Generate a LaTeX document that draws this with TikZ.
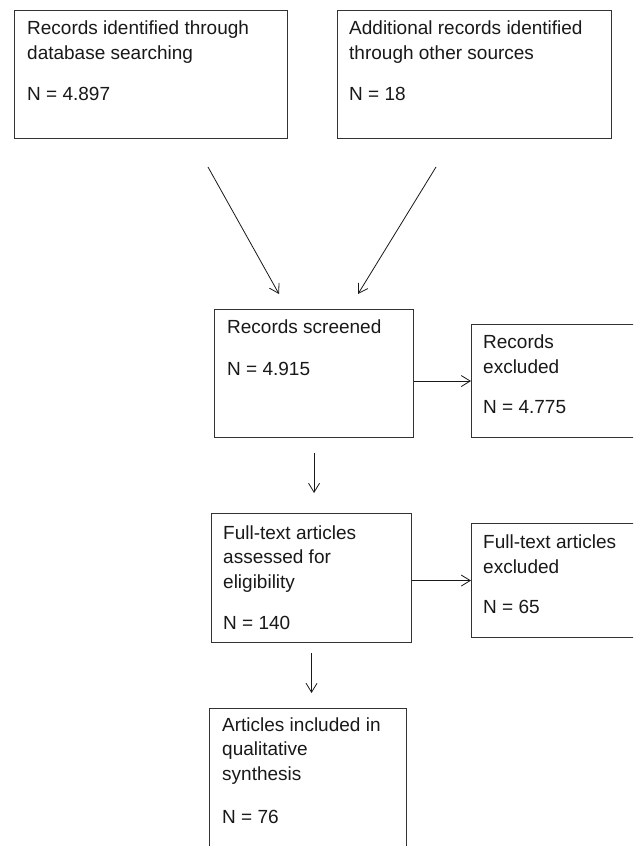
\documentclass[tikz,border=0pt]{standalone}
\usepackage{fontspec}
\setmainfont{Liberation Sans}
\usetikzlibrary{arrows.meta}
\begin{document}
\begin{tikzpicture}[x=1pt,y=-1pt,
  box/.style={draw=black!80, line width=1.1pt, rectangle, inner sep=0pt, anchor=north west},
  txt/.style={anchor=base west, align=left, inner sep=0pt, text=black!90, font=\fontsize{19}{24.5}\selectfont},
  arr/.style={-{Straight Barb[length=9pt,width=11pt]}, line width=0.8pt, draw=black!90}]
\useasboundingbox (0,0) rectangle (633,846);
\clip (0,0) rectangle (633,846);
\fill[white] (0,0) rectangle (633,846);
% boxes
\node[box, minimum width=273pt, minimum height=128pt] (db) at (14,10) {};
\node[box, minimum width=274pt, minimum height=128pt] (oth) at (337,10) {};
\node[box, minimum width=199pt, minimum height=128pt] (scr) at (214,309) {};
\node[box, minimum width=200pt, minimum height=113pt] (exc) at (471,324) {};
\node[box, minimum width=200pt, minimum height=129pt] (full) at (211,513) {};
\node[box, minimum width=200pt, minimum height=114pt] (exf) at (471,523) {};
\node[box, minimum width=197pt, minimum height=200pt] (incl) at (209,708) {};
% texts (anchored at the baseline of their last line)
\node[txt] (dbt) at (27,100) {Records identified through\\database searching\\[16.5pt]N = 4.897};
\node[txt] (otht) at (349,100) {Additional records identified\\through other sources\\[16.5pt]N = 18};
\node[txt] (scrt) at (227,375) {Records screened\\[17.5pt]N = 4.915};
\node[txt] (exct) at (483,413) {Records\\excluded\\[15.5pt]N = 4.775};
\node[txt] (fullt) at (223,629) {Full-text articles\\assessed for\\eligibility\\[16.5pt]N = 140};
\node[txt] (exft) at (483,613) {Full-text articles\\excluded\\[15.5pt]N = 65};
\node[txt] (inclt) at (222,823) {Articles included in\\qualitative\\synthesis\\[18.5pt]N = 76};
% connector ends
\coordinate (l1) at (208,167);
\coordinate (l2) at (279,294);
\coordinate (r1) at (436,167);
\coordinate (r2) at (358,294);
% connectors
\draw[arr] (l1) -- (l2);
\draw[arr] (r1) -- (r2);
\draw[arr] (scr.east |- exc.west) -- (exc.west);
\draw[arr] (full.east |- exf.west) -- (exf.west);
\draw[arr, shorten <=15pt, shorten >=20pt] (scr.south) -- (scr.south |- full.north);
\draw[arr, shorten <=10pt, shorten >=15pt] (full.south) -- (full.south |- incl.north);
\end{tikzpicture}
\end{document}
